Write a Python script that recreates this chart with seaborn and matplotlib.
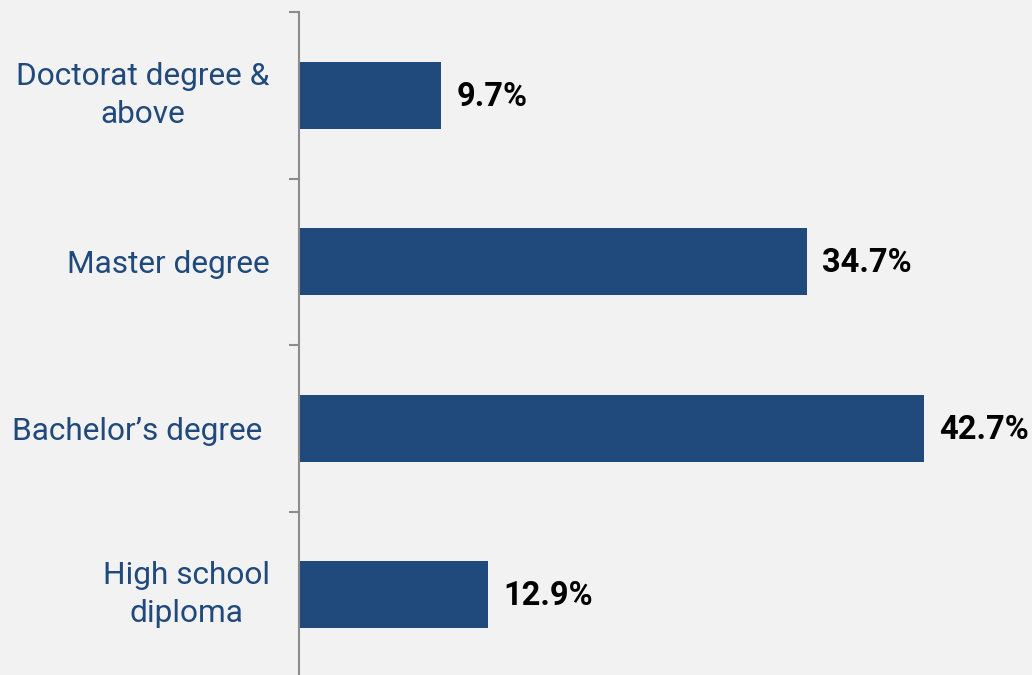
import pandas as pd
import seaborn as sns
import matplotlib.pyplot as plt

# Education level shares
categories = ["Doctorat degree &\nabove", "Master degree", "Bachelor\u2019s degree ", "High school\ndiploma"]
values = [9.7, 34.7, 42.7, 12.9]
value_labels = ["9.7%", "34.7%", "42.7%", "12.9%"]

df = pd.DataFrame({"level": categories, "share": values})

sns.set_style("white")
plt.rcParams["font.family"] = ["Roboto", "DejaVu Sans"]

bg = "#f2f2f2"
bar_color = "#20497c"

fig = plt.figure(figsize=(10.32, 6.75), dpi=100, facecolor=bg)
ax = fig.add_axes([299 / 1032, -3 / 675, 733 / 1032, 666 / 675])
ax.set_facecolor(bg)

sns.barplot(data=df, x="share", y="level", orient="h", color=bar_color,
            width=0.4, saturation=1, linewidth=0, ax=ax)

ax.set_xlim(0, 50.07)
ax.set_ylim(3.5, -0.5)

# value labels at the end of each bar
for i, v in enumerate(values):
    ax.text(v + 1.05, i + 0.01, value_labels[i], va="center", ha="left",
            fontsize=23.5, fontweight="bold", color="black")

# category axis: ticks between bands
ax.set_yticks([-0.5, 0.5, 1.5, 2.5, 3.5])
ax.set_yticklabels([])
ax.set_yticks(range(len(categories)), minor=True)
ax.set_yticklabels(categories, minor=True, fontsize=22.8, color=bar_color,
                   multialignment="center", linespacing=1.4)
for lab in ax.get_yticklabels(minor=True):
    if "\n" in lab.get_text():
        lab.set_va("center")
ax.tick_params(axis="y", which="major", length=7, width=1.5, color="#8c8c8c", left=True)
ax.tick_params(axis="y", which="minor", length=0, pad=21)
ax.set_xticks([])
ax.set_xlabel("")
ax.set_ylabel("")

for s in ["top", "right", "bottom"]:
    ax.spines[s].set_visible(False)
ax.spines["left"].set_color("#8c8c8c")
ax.spines["left"].set_linewidth(1.5)

fig.savefig("out.png", dpi=100, facecolor=bg)
